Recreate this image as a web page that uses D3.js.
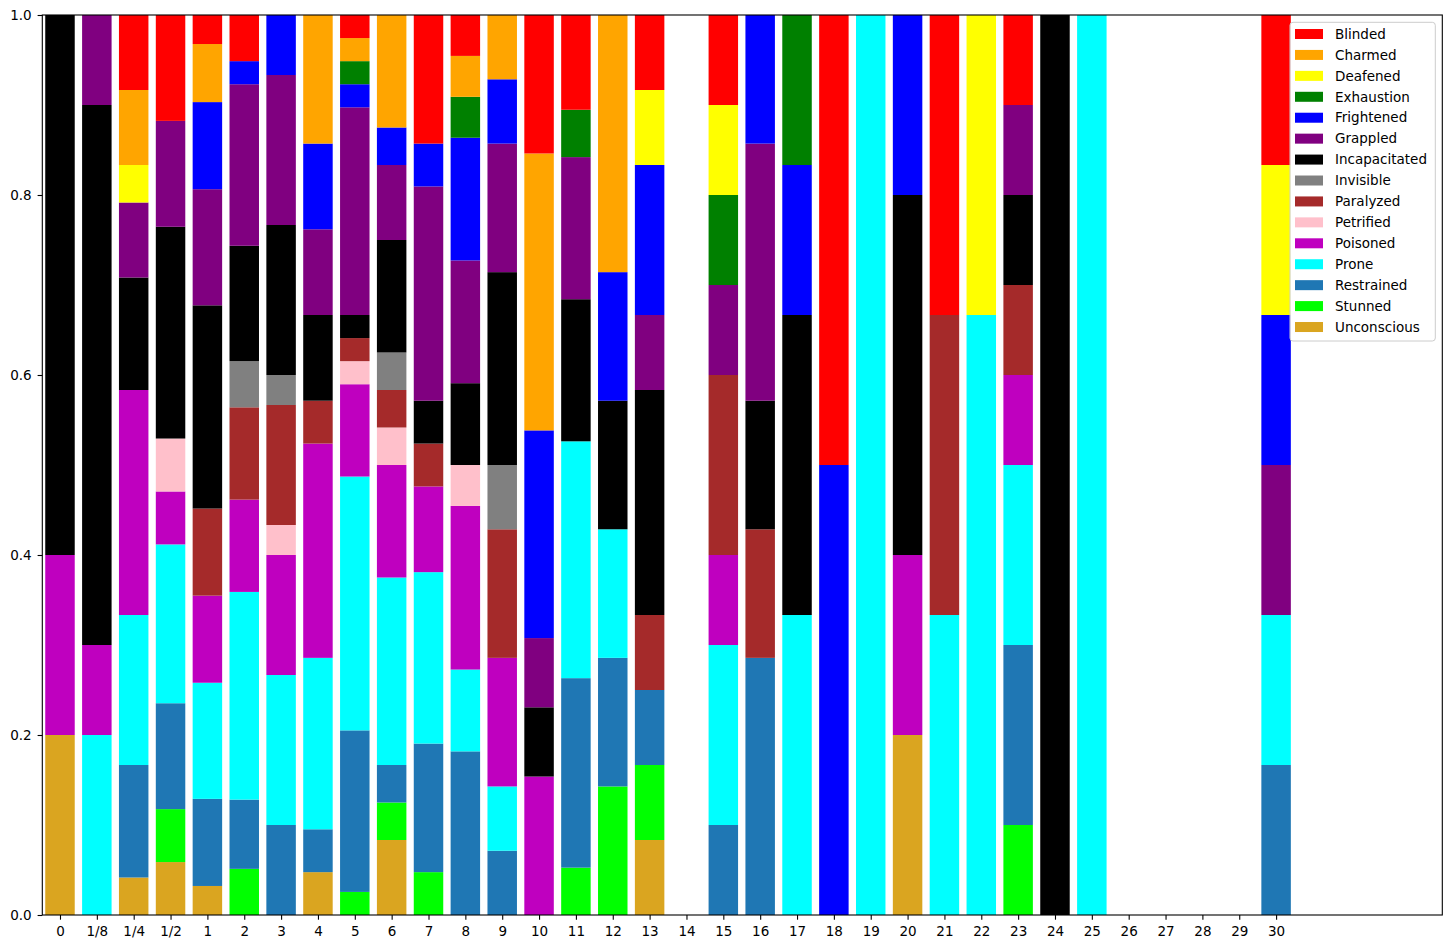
<!DOCTYPE html>
<html>
<head>
<meta charset="utf-8">
<script src="https://cdn.jsdelivr.net/npm/d3@7"></script>
<style>
  html, body { margin: 0; padding: 0; background: #fff; }
  svg { display: block; }
  text { font-family: "DejaVu Sans", sans-serif; }
</style>
</head>
<body>
<svg id="chart" width="1451" height="949"></svg>
<script>
// Categories (challenge ratings)
const categories = ["0","1/8","1/4","1/2","1","2","3","4","5","6","7","8","9","10","11","12","13","14","15","16","17","18","19","20","21","22","23","24","25","26","27","28","29","30"];

// Counts per condition for each category (normalised to fractions when drawn)
const Blinded       = [0,0,2,2,1,2,0,0,1,0,3,1,0,2,2,0,1,0,1,0,0,1,0,0,1,0,1,0,0,0,0,0,0,1];
const Charmed       = [0,0,2,0,2,0,0,3,1,3,0,1,1,4,0,2,0,0,0,0,0,0,0,0,0,0,0,0,0,0,0,0,0,0];
const Deafened      = [0,0,1,0,0,0,0,0,0,0,0,0,0,0,0,0,1,0,1,0,0,0,0,0,0,1,0,0,0,0,0,0,0,1];
const Exhaustion    = [0,0,0,0,0,0,0,0,1,0,0,1,0,0,1,0,0,0,1,0,1,0,0,0,0,0,0,0,0,0,0,0,0,0];
const Frightened    = [0,0,0,0,3,1,2,2,1,1,1,3,1,3,0,1,2,0,0,1,1,1,0,1,0,0,0,0,0,0,0,0,0,1];
const Grappled      = [0,1,2,2,4,7,5,2,9,2,5,3,2,1,3,0,1,0,1,2,0,0,0,0,0,0,1,0,0,0,0,0,0,1];
const Incapacitated = [3,6,3,4,7,5,5,2,1,3,1,2,3,1,3,1,3,0,0,1,2,0,0,2,0,0,1,1,0,0,0,0,0,0];
const Invisible     = [0,0,0,0,0,2,1,0,0,1,0,0,1,0,0,0,0,0,0,0,0,0,0,0,0,0,0,0,0,0,0,0,0,0];
const Paralyzed     = [0,0,0,0,3,4,4,1,1,1,1,0,2,0,0,0,1,0,2,1,0,0,0,0,1,0,1,0,0,0,0,0,0,0];
const Petrified     = [0,0,0,1,0,0,1,0,1,1,0,1,0,0,0,0,0,0,0,0,0,0,0,0,0,0,0,0,0,0,0,0,0,0];
const Poisoned      = [1,1,6,1,3,4,4,5,4,3,2,4,2,2,0,0,0,0,1,0,0,0,0,1,0,0,1,0,0,0,0,0,0,0];
const Prone         = [0,2,4,3,4,9,5,4,11,5,4,2,1,0,5,1,0,0,2,0,2,0,1,0,1,2,2,0,1,0,0,0,0,1];
const Restrained    = [0,0,3,2,3,3,3,1,7,1,3,4,1,0,4,1,1,0,1,2,0,0,0,0,0,0,2,0,0,0,0,0,0,1];
const Stunned       = [0,0,0,1,0,2,0,0,1,1,1,0,0,0,1,1,1,0,0,0,0,0,0,0,0,0,1,0,0,0,0,0,0,0];
const Unconscious   = [1,0,1,1,1,0,0,1,0,2,0,0,0,0,0,0,1,0,0,0,0,0,0,1,0,0,0,0,0,0,0,0,0,0];

const conditions = ["Blinded","Charmed","Deafened","Exhaustion","Frightened","Grappled","Incapacitated","Invisible","Paralyzed","Petrified","Poisoned","Prone","Restrained","Stunned","Unconscious"];
const colors = ["#ff0000","#ffa500","#ffff00","#008000","#0000ff","#800080","#000000","#808080","#a52a2a","#ffc0cb","#bf00bf","#00ffff","#1f77b4","#00ff00","#daa520"];
const seriesCounts = {Blinded, Charmed, Deafened, Exhaustion, Frightened, Grappled, Incapacitated, Invisible, Paralyzed, Petrified, Poisoned, Prone, Restrained, Stunned, Unconscious};
const yTicks = [0, 0.2, 0.4, 0.6, 0.8, 1.0];

// Build normalised table
const table = categories.map((c, i) => {
  const row = {cat: c, idx: i};
  const total = conditions.reduce((s, k) => s + seriesCounts[k][i], 0);
  conditions.forEach(k => { row[k] = total > 0 ? seriesCounts[k][i] / total : 0; });
  return row;
});

const svg = d3.select("#chart");
const L = 42.3, R = 1442.3, T = 15, B = 915;

const x = d3.scaleLinear().domain([-0.48, 37.51]).range([L, R]);
const y = d3.scaleLinear().domain([0, 1]).range([B, T]);
const color = d3.scaleOrdinal().domain(conditions).range(colors);
const barW = x(0.8) - x(0);

// stacking: Unconscious at bottom ... Blinded at top
const stackKeys = conditions.slice().reverse();
const stacked = d3.stack().keys(stackKeys)(table);

const g = svg.append("g");
stacked.forEach(layer => {
  g.append("g").attr("fill", color(layer.key))
    .selectAll("rect").data(layer.filter(d => d[1] - d[0] > 0))
    .join("rect")
    .attr("x", d => x(d.data.idx) - barW / 2)
    .attr("width", barW)
    .attr("y", d => y(d[1]))
    .attr("height", d => y(d[0]) - y(d[1]));
});

// Axes
const xAxis = d3.axisBottom(x)
  .tickValues(categories.map((c, i) => i))
  .tickFormat(i => categories[i])
  .tickSize(4.7).tickPadding(7.2);
const xg = svg.append("g").attr("transform", `translate(0,${B})`).call(xAxis);
const yAxis = d3.axisLeft(y).tickValues(yTicks).tickFormat(d3.format(".1f")).tickSize(4.7).tickPadding(5.9);
const yg = svg.append("g").attr("transform", `translate(${L},0)`).call(yAxis);
[xg, yg].forEach(a => {
  a.select(".domain").remove();
  a.selectAll("line").attr("stroke", "#000").attr("stroke-width", 1.1);
  a.selectAll("text").attr("font-size", "13.5px").attr("fill", "#000").attr("font-family", "DejaVu Sans");
});

// spines
svg.append("rect").attr("x", L).attr("y", T).attr("width", R - L).attr("height", B - T)
  .attr("fill", "none").attr("stroke", "#000").attr("stroke-width", 1.1);

// Legend
const lg = svg.append("g");
lg.append("rect").attr("x", 1290).attr("y", 22.3).attr("width", 145.3).attr("height", 318.7)
  .attr("rx", 3).attr("fill", "#fff").attr("fill-opacity", 0.8).attr("stroke", "#cccccc").attr("stroke-width", 1);
conditions.forEach((k, i) => {
  const cy = 34 + i * 20.93;
  lg.append("rect").attr("x", 1295).attr("y", cy - 5).attr("width", 28).attr("height", 10).attr("fill", color(k));
  lg.append("text").attr("x", 1335).attr("y", cy).attr("dy", "0.35em")
    .attr("font-size", "13.5px").attr("fill", "#000").text(k);
});
</script>
</body>
</html>
